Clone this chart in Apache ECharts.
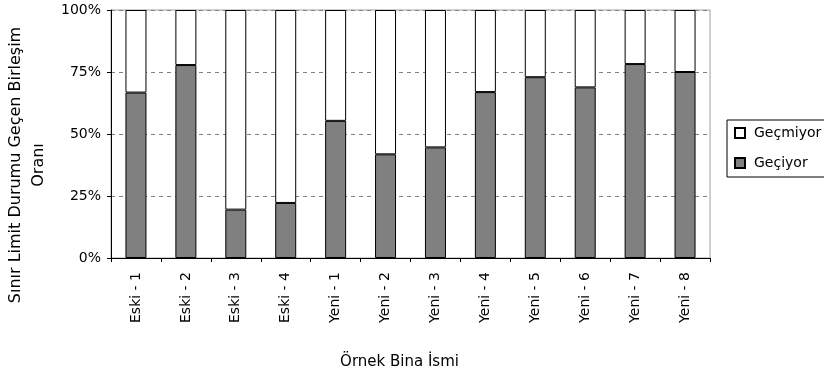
<!DOCTYPE html>
<html>
<head>
<meta charset="utf-8">
<script src="https://cdn.jsdelivr.net/npm/echarts@6/dist/echarts.min.js"></script>
<style>
  html, body { margin: 0; padding: 0; background: #ffffff; }
  #chart { width: 824px; height: 376px; }
</style>
</head>
<body>
<div id="chart"></div>
<script>
// Building names along the category axis
const categories = ['Eski - 1', 'Eski - 2', 'Eski - 3', 'Eski - 4',
  'Yeni - 1', 'Yeni - 2', 'Yeni - 3', 'Yeni - 4',
  'Yeni - 5', 'Yeni - 6', 'Yeni - 7', 'Yeni - 8'];

// Share of joints that pass (%)
const geciyor = [66.7, 77.8, 19.5, 22.2, 55.3, 41.8, 44.6, 66.9, 72.9, 68.8, 78.2, 75.0];
// Share of joints that fail (%)
const gecmiyor = [33.3, 22.2, 80.5, 77.8, 44.7, 58.2, 55.4, 33.1, 27.1, 31.2, 21.8, 25.0];

// Percent axis ticks
const yTicks = [0, 25, 50, 75, 100];

const FONT = 'DejaVu Sans';

const chart = echarts.init(document.getElementById('chart'), null, { renderer: 'canvas' });

chart.setOption({
  animation: false,
  backgroundColor: '#ffffff',
  textStyle: { fontFamily: FONT, color: '#000' },
  grid: {
    left: 111, right: 114, top: 10, bottom: 118,
    containLabel: false,
    outerBoundsMode: 'none',
    show: true, borderColor: '#a0a0a0', borderWidth: 1
  },
  legend: {
    orient: 'vertical',
    left: 727, top: 120,
    data: ['Geçmiyor', 'Geçiyor'],
    itemWidth: 10, itemHeight: 10, itemGap: 16,
    padding: [6, 40, 7, 7],
    borderColor: '#000', borderWidth: 1,
    icon: 'rect',
    textStyle: { fontFamily: FONT, fontSize: 14, color: '#000', padding: [0, 0, 0, 4] }
  },
  xAxis: {
    type: 'category',
    data: categories,
    name: 'Örnek Bina İsmi',
    nameLocation: 'middle',
    nameGap: 97,
    nameTextStyle: { fontFamily: FONT, fontSize: 15, color: '#000', padding: [0, 22, 0, 0] },
    axisLine: { lineStyle: { color: '#000', width: 1 } },
    axisTick: { show: true, length: 4, lineStyle: { color: '#000' } },
    axisLabel: { rotate: 90, fontFamily: FONT, fontSize: 14, color: '#000', margin: 14 },
    splitLine: { show: false }
  },
  yAxis: {
    type: 'value',
    min: yTicks[0], max: yTicks[yTicks.length - 1], interval: 25,
    name: 'Sınır Limit Durumu Geçen Birleşim\nOranı',
    nameLocation: 'middle',
    nameRotate: 90,
    nameGap: 59,
    nameTextStyle: {
      fontFamily: FONT, fontSize: 16, color: '#000', lineHeight: 23,
      padding: [0, 62, 0, 0]
    },
    axisLine: { show: true, lineStyle: { color: '#000', width: 1 } },
    axisTick: { show: true, length: 4, lineStyle: { color: '#000' } },
    axisLabel: {
      fontFamily: FONT, fontSize: 14, color: '#000', margin: 10,
      formatter: v => v + '%'
    },
    splitLine: { show: true, lineStyle: { color: '#808080', type: [4, 4], width: 1 } }
  },
  series: [
    {
      name: 'Geçiyor',
      type: 'bar',
      stack: 'oran',
      data: geciyor,
      barWidth: 21,
      itemStyle: { color: '#808080', borderColor: '#000', borderWidth: 1 }
    },
    {
      name: 'Geçmiyor',
      type: 'bar',
      stack: 'oran',
      data: gecmiyor,
      barWidth: 21,
      itemStyle: { color: '#ffffff', borderColor: '#000', borderWidth: 1 }
    }
  ]
});
</script>
</body>
</html>
